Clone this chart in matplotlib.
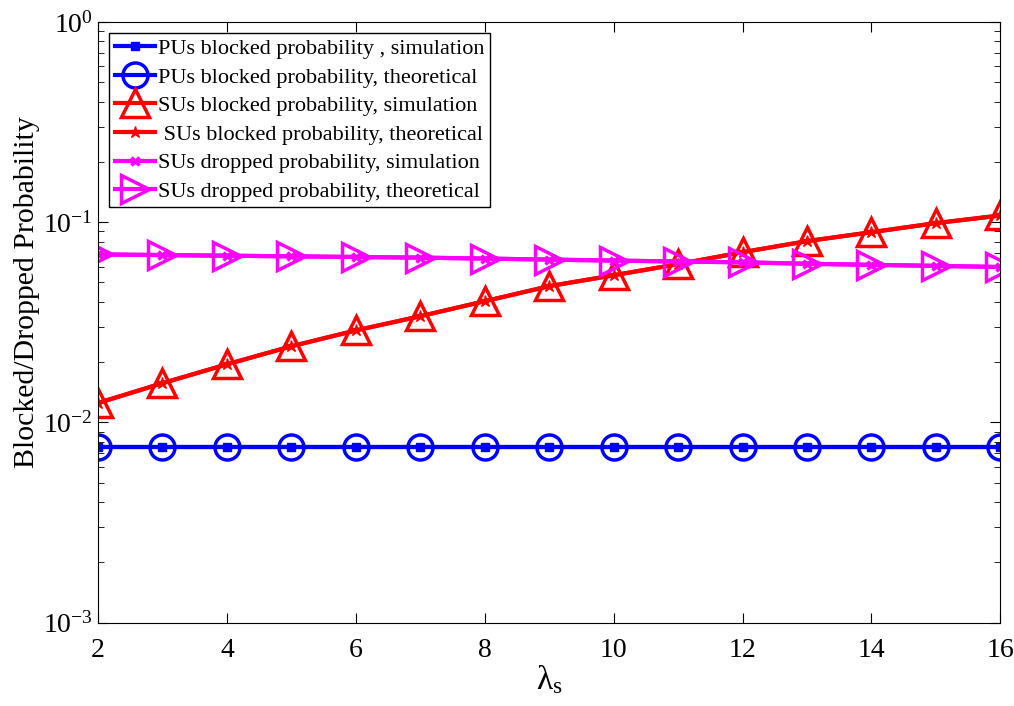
import matplotlib
matplotlib.use('Agg')
import matplotlib.pyplot as plt

plt.rcParams['font.family'] = ['Liberation Serif', 'DejaVu Serif']
plt.rcParams['mathtext.fontset'] = 'custom'
plt.rcParams['mathtext.rm'] = 'Liberation Serif'
plt.rcParams['mathtext.it'] = 'Liberation Serif'

lam = [2, 3, 4, 5, 6, 7, 8, 9, 10, 11, 12, 13, 14, 15, 16]

pu_sim = [0.0075] * 15
pu_theo = [0.0075] * 15

su_block_sim = [0.0125, 0.0157, 0.0195, 0.0240, 0.0288, 0.0339, 0.0403, 0.0479,
                0.0543, 0.0617, 0.0708, 0.0804, 0.0891, 0.0989, 0.108]
su_block_theo = [0.0125, 0.0157, 0.0195, 0.0240, 0.0288, 0.0339, 0.0403, 0.0479,
                 0.0543, 0.0617, 0.0708, 0.0804, 0.0891, 0.0989, 0.108]

su_drop_sim = [0.0690, 0.0685, 0.0680, 0.0675, 0.0670, 0.0665, 0.0658, 0.0650,
               0.0643, 0.0636, 0.0630, 0.0620, 0.0612, 0.0605, 0.0597]
su_drop_theo = [0.0690, 0.0685, 0.0680, 0.0675, 0.0670, 0.0665, 0.0658, 0.0650,
                0.0643, 0.0636, 0.0630, 0.0620, 0.0612, 0.0605, 0.0597]

fig = plt.figure(figsize=(10.14, 7.06), dpi=100)
ax = fig.add_axes([0.0966, 0.118, 0.890, 0.851])

lw = 3
ax.semilogy(lam, pu_sim, color='blue', lw=lw, marker='s', ms=6,
            label='PUs blocked probability , simulation')
ax.semilogy(lam, pu_theo, color='blue', lw=lw, marker='o', ms=18, mfc='none', mew=2.5,
            label='PUs blocked probability, theoretical')
ax.semilogy(lam, su_block_sim, color='red', lw=lw, marker='^', ms=20, mfc='none', mew=2.5,
            label='SUs blocked probability, simulation')
ax.semilogy(lam, su_block_theo, color='red', lw=lw, marker='*', ms=9,
            label=' SUs blocked probability, theoretical')
ax.semilogy(lam, su_drop_sim, color='magenta', lw=lw, marker='x', ms=6, mew=2.5,
            label='SUs dropped probability, simulation')
ax.semilogy(lam, su_drop_theo, color='magenta', lw=lw, marker='>', ms=20, mfc='none', mew=2.5,
            label='SUs dropped probability, theoretical')

ax.set_xlim(2, 16)
ax.set_ylim(1e-3, 1)
ax.set_xticks(range(2, 17, 2))
ax.tick_params(axis='both', which='both', direction='in', top=True, right=True, labelsize=20)
ax.tick_params(axis='x', pad=11)
ax.tick_params(which='major', length=7)
ax.tick_params(which='minor', length=4)
ax.set_xlabel('λ$_\\mathrm{s}$', fontsize=24, labelpad=0)
ax.set_ylabel('Blocked/Dropped Probability', fontsize=21.5)
ax.yaxis.set_label_coords(-0.064, 0.55)

leg = ax.legend(loc='upper left', fontsize=16, handlelength=1.8, handletextpad=0.15,
                labelspacing=0.36, borderpad=0.25, fancybox=False, framealpha=1,
                borderaxespad=0.5)
leg.get_frame().set_edgecolor('black')
leg.get_frame().set_linewidth(1.0)

fig.savefig('out.png', dpi=100)
